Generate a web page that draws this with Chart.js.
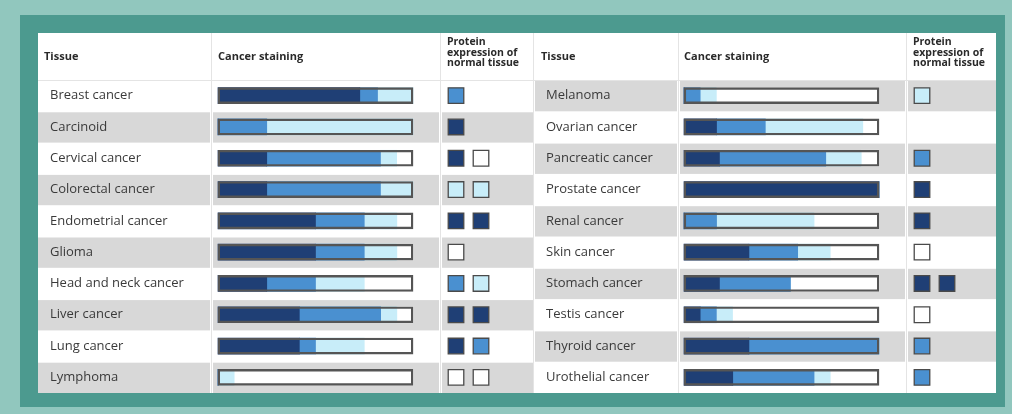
<!DOCTYPE html>
<html><head><meta charset="utf-8">
<script src="https://cdn.jsdelivr.net/npm/chart.js@4.4.1/dist/chart.umd.min.js"></script>
<style>
html,body{margin:0;padding:0;}
body{width:1012px;height:414px;background:#91c7be;position:relative;overflow:hidden;}
#frame{position:absolute;left:20px;top:15px;width:985px;height:392px;background:#4c9a8f;}
#sheet{position:absolute;left:38px;top:33px;width:958px;height:360px;background:#fff;}
canvas{position:absolute;top:33px;}
</style></head><body>
<div id="frame"></div><div id="sheet"></div>
<canvas id="leftChart" width="495" height="360" style="left:38px"></canvas>
<canvas id="rightChart" width="463" height="360" style="left:533px"></canvas>
<script>
// ---- DATA: cancer staining (% of patients) ----
const leftTissues = ['Breast cancer','Carcinoid','Cervical cancer','Colorectal cancer','Endometrial cancer','Glioma','Head and neck cancer','Liver cancer','Lung cancer','Lymphoma'];
const leftHigh    = [72.7, 0,   25,   25,   50,   50,   25, 41.7, 41.7, 0];
const leftMedium  = [9.1,  25,  58.3, 58.3, 25,   25,   25, 41.7, 8.3,  0];
const leftLow     = [18.2, 75,  8.3,  16.7, 16.7, 16.7, 25, 8.3,  25,   8.3];
const leftNone    = [0,    0,   8.3,  0,    8.3,  8.3,  25, 8.3,  25,   91.7];
const leftNormal  = [['medium'],['high'],['high','none'],['low','low'],['high','high'],['none'],['medium','low'],['high','high'],['high','medium'],['none','none']];

const rightTissues = ['Melanoma','Ovarian cancer','Pancreatic cancer','Prostate cancer','Renal cancer','Skin cancer','Stomach cancer','Testis cancer','Thyroid cancer','Urothelial cancer'];
const rightHigh    = [0,    16.7, 18.2, 100, 0,    33.3, 18.2, 8.3, 33.3, 25];
const rightMedium  = [8.3,  25,   54.5, 0,   16.7, 25,   36.4, 8.3, 66.7, 41.7];
const rightLow     = [8.3,  50,   18.2, 0,   50,   16.7, 0,    8.3, 0,    8.3];
const rightNone    = [83.3, 8.3,  9.1,  0,   33.3, 25,   45.5, 75,  0,    25];
const rightNormal  = [['low'],[],['medium'],['high'],['high'],['none'],['high','high'],['none'],['medium'],['medium']];

const levelNames = ['High','Medium','Low','Not detected'];
const levelColor = {high:'#1f3f75', medium:'#4a90d0', low:'#c8edf9', none:'#ffffff'};

const FONT = '"Open Sans", "Noto Sans", sans-serif';

function makeChart(id, tissues, series, normal, L) {
  const keys = ['high','medium','low','none'];
  const datasets = series.map((vals, k) => ({
    type: 'bar', label: levelNames[k], data: vals, stack: 'staining',
    backgroundColor: levelColor[keys[k]], borderWidth: 0, barThickness: 16,
    xAxisID: 'x', yAxisID: 'y', order: 2
  }));
  // outline of the full staining bar (100%)
  datasets.push({
    type: 'bar', label: 'outline', data: tissues.map(() => 100), stack: 'outline', grouped: false,
    backgroundColor: 'rgba(0,0,0,0)', borderColor: '#555555', borderWidth: 1.7, borderSkipped: false,
    barThickness: 16, xAxisID: 'x', yAxisID: 'y', order: 0
  });
  const pts = [];
  normal.forEach((levels, i) => levels.forEach((lv, j) => pts.push({x: j, y: tissues[i], level: lv})));
  datasets.push({
    type: 'scatter', label: 'Normal tissue', data: pts, xAxisID: 'xp', yAxisID: 'y', order: 1,
    pointStyle: 'rect', pointRadius: 11, pointBorderWidth: 1.3, pointBorderColor: '#4a4a4a',
    pointBackgroundColor: c => levelColor[c.raw ? c.raw.level : 'none'], showLine: false
  });

  const tablePlugin = {
    id: 'table',
    beforeDraw(chart) {
      const ctx = chart.ctx, y = chart.scales.y, area = chart.chartArea;
      const W = chart.width;
      const rowH = area.height / tissues.length;
      ctx.save();
      ctx.fillStyle = '#e4e4e4';
      L.dividers.forEach(d => ctx.fillRect(d, 0, 1, area.bottom));
      ctx.fillRect(0, area.top, W, 1);
      ctx.fillStyle = '#d8d8d8';
      tissues.forEach((t, i) => {
        if ((i % 2 === 1) !== L.oddGrey) return;
        const cy = y.getPixelForValue(i);
        const top = cy - rowH / 2 + 1, h = rowH - 1;
        let start = L.stripeStart;
        L.dividers.concat([W + 1]).forEach(d => {
          if (d <= 0) { start = d + 2; return; }
          ctx.fillRect(start, top, d - 1 - start, h);
          start = d + 2;
        });
      });
      ctx.restore();
    },
    afterDraw(chart) {
      const ctx = chart.ctx;
      ctx.save();
      ctx.fillStyle = '#2a2a2a';
      ctx.textBaseline = 'middle';
      ctx.textAlign = 'left';
      ctx.font = 'bold 11px ' + FONT;
      ctx.fillText('Tissue', L.hTissue, 24);
      ctx.fillText('Cancer staining', L.hStain, 24);
      ctx.font = 'bold 10.5px ' + FONT;
      ctx.fillText('Protein', L.hProt, 9.5);
      ctx.fillText('expression of', L.hProt, 20);
      ctx.fillText('normal tissue', L.hProt, 30.5);
      ctx.restore();
    }
  };

  return new Chart(document.getElementById(id), {
    type: 'bar',
    data: { labels: tissues, datasets },
    options: {
      indexAxis: 'y', responsive: false, animation: false, devicePixelRatio: 1, events: [],
      layout: { autoPadding: false, padding: { left: L.padLeft, top: 47, right: 0, bottom: 0 } },
      plugins: { legend: { display: false }, tooltip: { enabled: false } },
      scales: {
        y: {
          type: 'category', offset: true,
          grid: { display: false, drawTicks: false }, border: { display: false },
          ticks: { crossAlign: 'far', padding: 0, color: '#3a3a3a', font: { family: FONT, size: 13 } },
          afterFit: s => { s.width = L.axisWidth; s.paddingTop = 0; s.paddingBottom = 0; }
        },
        x: { type: 'linear', stacked: true, display: false, min: L.xMin, max: L.xMax },
        xp: { type: 'linear', axis: 'x', position: 'bottom', display: false, min: L.pMin, max: L.pMax }
      }
    },
    plugins: [tablePlugin]
  });
}

makeChart('leftChart', leftTissues, [leftHigh, leftMedium, leftLow, leftNone], leftNormal, {
  padLeft: 12, axisWidth: 161, xMin: -3.59, xMax: 161.5, pMin: -9.8, pMax: 3.08,
  dividers: [173, 402], oddGrey: true, stripeStart: 0,
  hTissue: 6, hStain: 180, hProt: 409
});
makeChart('rightChart', rightTissues, [rightHigh, rightMedium, rightLow, rightNone], rightNormal, {
  padLeft: 13, axisWidth: 132, xMin: -3.08, xMax: 160.0, pMin: -9.76, pMax: 2.96,
  dividers: [0, 145, 373], oddGrey: false, stripeStart: 2,
  hTissue: 8, hStain: 151, hProt: 380
});
</script>
</body></html>
